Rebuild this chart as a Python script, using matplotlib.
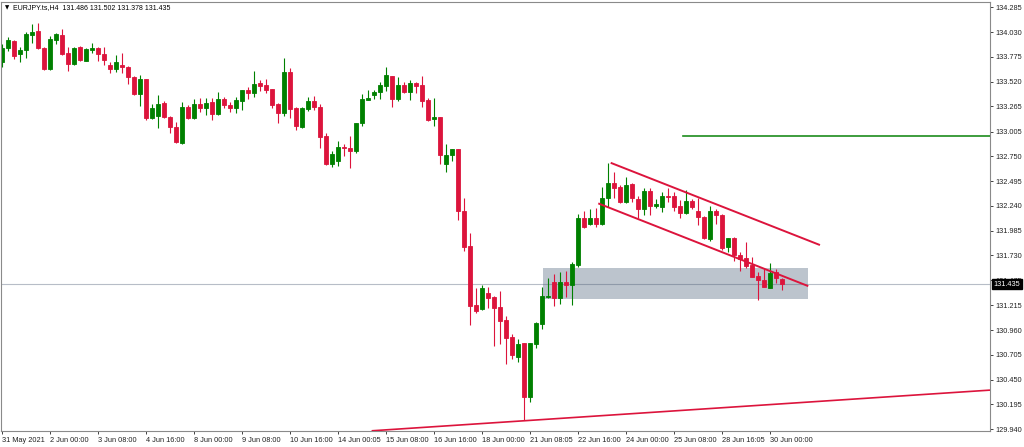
import numpy as np
import matplotlib
matplotlib.use("Agg")
import matplotlib.pyplot as plt
from matplotlib.patches import Rectangle
from matplotlib.transforms import blended_transform_factory

plt.rcParams['font.family'] = ['Liberation Sans', 'DejaVu Sans']

# EURJPY H4 candles (oldest first)
opens = [133.721, 133.863, 133.938, 133.801, 133.845, 133.999, 134.041, 133.869, 133.649, 133.948,
         133.999, 133.817, 133.701, 133.873, 133.735, 133.848, 133.863, 133.801, 133.691, 133.649,
         133.691, 133.673, 133.570, 133.392, 133.543, 133.148, 133.165, 133.296, 133.158, 133.055,
         132.884, 133.261, 133.141, 133.286, 133.245, 133.306, 133.183, 133.340, 133.279, 133.245,
         133.323, 133.433, 133.405, 133.502, 133.485, 133.440, 133.289, 133.193, 133.615, 133.245,
         133.055, 133.237, 133.320, 133.261, 132.959, 132.671, 132.705, 132.851, 132.841, 132.805,
         133.090, 133.335, 133.382, 133.409, 133.477, 133.577, 133.340, 133.485, 133.409, 133.508,
         133.485, 133.330, 133.131, 133.152, 132.668, 132.764, 132.822, 132.190, 131.826, 131.219,
         131.174, 131.345, 131.304, 131.201, 131.064, 130.886, 130.680, 130.824, 130.274, 130.814,
         131.023, 131.298, 131.452, 131.288, 131.459, 131.425, 131.631, 132.112, 132.050, 132.112,
         132.053, 132.324, 132.478, 132.431, 132.276, 132.462, 132.310, 132.207, 132.393, 132.241,
         132.231, 132.344, 132.344, 132.238, 132.163, 132.293, 132.187, 132.128, 131.895, 132.187,
         132.146, 131.813, 131.906, 131.734, 131.699, 131.631, 131.517, 131.476, 131.397, 131.555,
         131.486]
highs = [133.907, 133.976, 133.948, 133.879, 134.034, 134.110, 134.123, 133.879, 133.992, 134.017,
         134.061, 133.879, 133.879, 133.886, 133.863, 133.914, 133.876, 133.873, 133.724, 133.794,
         133.817, 133.683, 133.577, 133.588, 133.548, 133.286, 133.382, 133.323, 133.165, 133.106,
         133.306, 133.279, 133.340, 133.348, 133.348, 133.354, 133.415, 133.364, 133.313, 133.364,
         133.438, 133.461, 133.629, 133.536, 133.546, 133.443, 133.296, 133.760, 133.665, 133.263,
         133.261, 133.358, 133.371, 133.286, 132.987, 132.810, 132.911, 132.874, 132.959, 133.096,
         133.395, 133.433, 133.438, 133.515, 133.673, 133.582, 133.564, 133.512, 133.536, 133.513,
         133.577, 133.348, 133.351, 133.155, 132.874, 132.825, 132.825, 132.324, 131.957, 131.394,
         131.425, 131.407, 131.311, 131.366, 131.108, 130.920, 130.868, 130.827, 130.827, 131.046,
         131.407, 131.494, 131.538, 131.555, 131.572, 131.665, 132.156, 132.187, 132.204, 132.214,
         132.437, 132.684, 132.592, 132.455, 132.540, 132.472, 132.346, 132.421, 132.421, 132.307,
         132.386, 132.427, 132.386, 132.300, 132.403, 132.307, 132.324, 132.138, 132.241, 132.207,
         132.156, 131.909, 131.916, 131.768, 131.870, 131.710, 131.562, 131.597, 131.648, 131.589,
         131.502]
lows = [133.670, 133.838, 133.752, 133.724, 133.766, 133.914, 133.852, 133.644, 133.644, 133.904,
        133.794, 133.632, 133.691, 133.735, 133.732, 133.811, 133.735, 133.691, 133.611, 133.622,
        133.605, 133.495, 133.387, 133.271, 133.124, 133.140, 133.039, 133.148, 132.993, 132.889,
        132.874, 133.134, 133.134, 133.203, 133.176, 133.124, 133.176, 133.251, 133.203, 133.193,
        133.227, 133.340, 133.364, 133.426, 133.405, 133.253, 133.096, 133.165, 133.150, 133.026,
        133.045, 133.214, 133.227, 132.833, 132.666, 132.645, 132.650, 132.753, 132.635, 132.789,
        133.062, 133.330, 133.340, 133.340, 133.423, 133.261, 133.320, 133.399, 133.330, 133.399,
        133.258, 133.119, 133.062, 132.671, 132.588, 132.702, 132.094, 131.778, 131.013, 131.136,
        131.172, 131.191, 130.799, 130.814, 130.608, 130.659, 130.628, 130.034, 130.223, 130.779,
        130.968, 131.293, 131.211, 131.226, 131.304, 131.219, 131.613, 132.015, 132.043, 132.025,
        132.043, 132.231, 132.317, 132.266, 132.266, 132.283, 132.115, 132.146, 132.146, 132.215,
        132.180, 132.283, 132.187, 132.118, 132.156, 132.207, 132.043, 131.895, 131.881, 132.050,
        131.785, 131.767, 131.675, 131.572, 131.597, 131.507, 131.270, 131.404, 131.391, 131.442,
        131.378]
closes = [133.866, 133.948, 133.786, 133.845, 134.007, 134.027, 133.869, 133.649, 133.958, 134.007,
          133.801, 133.701, 133.869, 133.742, 133.855, 133.869, 133.801, 133.742, 133.649, 133.718,
          133.667, 133.564, 133.392, 133.549, 133.141, 133.245, 133.289, 133.158, 133.055, 132.894,
          133.261, 133.141, 133.286, 133.245, 133.302, 133.186, 133.340, 133.279, 133.245, 133.330,
          133.433, 133.405, 133.495, 133.477, 133.433, 133.279, 133.193, 133.615, 133.237, 133.065,
          133.245, 133.320, 133.255, 132.952, 132.671, 132.779, 132.849, 132.836, 132.805, 133.090,
          133.337, 133.351, 133.416, 133.485, 133.588, 133.340, 133.485, 133.416, 133.502, 133.477,
          133.323, 133.124, 133.152, 132.764, 132.764, 132.822, 132.187, 131.819, 131.211, 131.157,
          131.390, 131.294, 131.191, 131.057, 130.882, 130.704, 130.817, 130.274, 130.824, 131.030,
          131.311, 131.311, 131.288, 131.459, 131.425, 131.641, 132.112, 132.025, 132.112, 132.050,
          132.324, 132.478, 132.427, 132.276, 132.455, 132.317, 132.207, 132.393, 132.238, 132.259,
          132.344, 132.334, 132.231, 132.163, 132.293, 132.225, 132.128, 131.905, 132.187, 132.146,
          131.803, 131.906, 131.734, 131.689, 131.620, 131.510, 131.476, 131.407, 131.545, 131.494,
          131.435]

# axis labels
date_labels = ["31 May 2021", "2 Jun 00:00", "3 Jun 08:00", "4 Jun 16:00", "8 Jun 00:00",
               "9 Jun 08:00", "10 Jun 16:00", "14 Jun 00:05", "15 Jun 08:00", "16 Jun 16:00",
               "18 Jun 00:00", "21 Jun 08:05", "22 Jun 16:00", "24 Jun 00:00", "25 Jun 08:00",
               "28 Jun 16:05", "30 Jun 00:00"]
date_bars = [0, 8, 16, 24, 32, 40, 48, 56, 64, 72, 80, 88, 96, 104, 112, 120, 128]
price_labels = ["134.285", "134.030", "133.775", "133.520", "133.265", "133.005", "132.750",
                "132.495", "132.240", "131.985", "131.730", "131.475", "131.215", "130.960",
                "130.705", "130.450", "130.195", "129.940"]

# drawn objects (bar index, price)
upper_channel = ([101.45, 136.33], [132.684, 131.837])
lower_channel = ([99.38, 134.38], [132.266, 131.414])
support_line = ([61.6, 164.67], [129.924, 130.343])
resistance_level = 132.955
resistance_start = 113.5
zone_bars = (90.2, 134.4)
zone_prices = (131.280, 131.596)
last_price = 131.435

RED = '#dc143c'
GREEN = '#008000'

o = np.array(opens)
c = np.array(closes)
x = np.arange(len(o))
up = c >= o
cols = np.where(up, GREEN, RED)

fig = plt.figure(figsize=(10.24, 4.47), dpi=100)
ax = fig.add_axes([1 / 1024, 16 / 447, 989 / 1024, 429 / 447])
ax.set_xlim(-0.17, 164.67)
ax.set_ylim(129.922, 134.340)

# support zone and last price line
ax.add_patch(Rectangle((zone_bars[0], zone_prices[0]), zone_bars[1] - zone_bars[0],
                       zone_prices[1] - zone_prices[0], facecolor='#bcc4cd',
                       edgecolor='none', zorder=0.5))
ax.axhline(last_price, color=(0.3, 0.36, 0.45), alpha=0.4, lw=0.8, zorder=0.8)

# candles
ax.vlines(x, lows, highs, colors=cols, linewidth=0.8, zorder=2)
ax.bar(x, np.abs(c - o), bottom=np.minimum(o, c), width=0.55, color=cols,
       edgecolor=cols, linewidth=0.6, zorder=2.1)

# trend lines
ax.plot(*upper_channel, color=RED, lw=1.4, zorder=3, solid_capstyle='butt')
ax.plot(*lower_channel, color=RED, lw=1.4, zorder=3, solid_capstyle='butt')
ax.plot(*support_line, color=RED, lw=1.2, zorder=3, solid_capstyle='butt')
ax.plot([resistance_start, 164.67], [resistance_level, resistance_level], color='#1c8c1c',
        lw=1.2, zorder=3)

# axes styling like the terminal
for s in ax.spines.values():
    s.set_color('#8a8a8a')
    s.set_linewidth(0.8)
ax.yaxis.tick_right()
ax.set_yticks([float(p) for p in price_labels])
ax.set_yticklabels(price_labels)
ax.set_xticks(date_bars)
ax.set_xticklabels(date_labels)
ax.tick_params(axis='y', direction='out', length=2.5, width=0.6, colors='#222222',
               labelsize=5.3, pad=1.5)
ax.tick_params(axis='x', direction='out', length=2.5, width=0.6, colors='#222222',
               labelsize=5.3, pad=1.5)
plt.setp(ax.get_xticklabels(), ha='left')

# current price marker on the scale
tr = blended_transform_factory(ax.transAxes, ax.transData)
ax.text(1.0035, last_price, f"{last_price:.3f}", transform=tr, color='white', fontsize=5.3,
        ha='left', va='center', clip_on=False, zorder=5,
        bbox=dict(boxstyle='square,pad=0.2', fc='black', ec='black'))

# symbol header
fig.text(5 / 1024, 1 - 7.5 / 447, '\u25bc', fontsize=4, va='center', ha='left',
         family=['DejaVu Sans'])
fig.text(13 / 1024, 1 - 7.5 / 447, 'EURJPY.ts,H4  131.486 131.502 131.378 131.435',
         fontsize=5, va='center', ha='left')

fig.savefig('out.png', dpi=100)
plt.close()
